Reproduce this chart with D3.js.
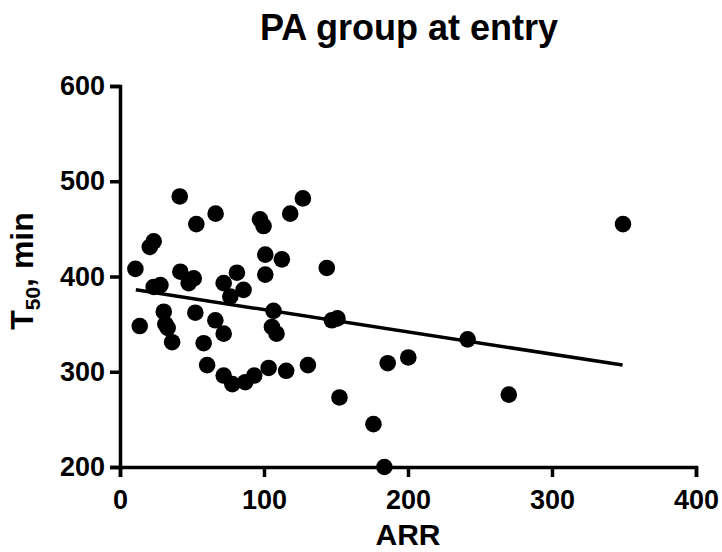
<!DOCTYPE html>
<html>
<head>
<meta charset="utf-8">
<script src="https://cdn.jsdelivr.net/npm/d3@7"></script>
<style>
  body { margin: 0; background: #fff; }
  text { font-family: Arial, "Liberation Sans", sans-serif; font-weight: bold; }
</style>
</head>
<body>
<div id="chart"></div>
<script>
// ARR vs T50 values
var arrValues = [41.5, 66.4, 53, 97.2, 99.7, 118.2, 127, 23.4, 20.7, 10.7,
                 41.9, 51.2, 47.7, 100.9, 112.4, 100.9, 81.2, 72, 85.8, 76.6,
                 28.1, 23.4, 143.6, 30.4, 52.3, 66.2, 106.6, 13.7, 31.5, 33.1,
                 72, 105.5, 108.7, 36.2, 58.1, 60.5, 72, 78, 87, 93.2,
                 103.2, 115.4, 130.5, 147.1, 151, 185.9, 200.2, 152.4, 176, 183.6,
                 349.3, 241.4, 270];
var t50Values = [484, 466, 455, 460, 453, 466, 482, 437, 431, 408,
                 405, 398, 393, 423, 418, 402, 404, 393, 386, 379,
                 391, 389, 409, 363, 362, 354, 364, 348, 350, 346,
                 340, 347, 340, 331, 330, 307, 296, 287, 289, 296,
                 304, 301, 307, 354, 356, 309, 315, 273, 245, 200,
                 455, 334, 276];
var xTicks = [0, 100, 200, 300, 400];
var yTicks = [200, 300, 400, 500, 600];
// regression line end points
var fitX = [11, 349];
var fitY = [386, 307];

var width = 722, height = 552;
var margin = { top: 86, right: 26, bottom: 85, left: 120 };

var svg = d3.select("#chart")
    .append("svg")
    .attr("width", width)
    .attr("height", height);

var x = d3.scaleLinear().domain([0, 400]).range([margin.left, width - margin.right]);
var y = d3.scaleLinear().domain([200, 600]).range([height - margin.bottom, margin.top]);

// x axis
svg.append("g")
    .attr("transform", "translate(0," + y(200) + ")")
    .call(d3.axisBottom(x).tickValues(xTicks).tickSize(10).tickPadding(13));

// y axis
svg.append("g")
    .attr("transform", "translate(" + x(0) + ",0)")
    .call(d3.axisLeft(y).tickValues(yTicks).tickSize(10).tickPadding(5));

svg.selectAll(".domain, .tick line")
    .attr("stroke", "#000")
    .attr("stroke-width", 3.5);

svg.selectAll(".tick text")
    .attr("fill", "#000")
    .style("font-size", "27px")
    .style("font-family", "Arial, 'Liberation Sans', sans-serif")
    .style("font-weight", "bold");

// fit line
var fit = fitX.map(function(d, i) { return [d, fitY[i]]; });
svg.append("path")
    .datum(fit)
    .attr("fill", "none")
    .attr("stroke", "#000")
    .attr("stroke-width", 3.5)
    .attr("d", d3.line().x(function(d) { return x(d[0]); }).y(function(d) { return y(d[1]); }));

// points
svg.selectAll("circle")
    .data(arrValues)
    .enter()
    .append("circle")
    .attr("cx", function(d) { return x(d); })
    .attr("cy", function(d, i) { return y(t50Values[i]); })
    .attr("r", 8.3)
    .attr("fill", "#000");

// title
svg.append("text")
    .attr("x", 409)
    .attr("y", 40)
    .attr("text-anchor", "middle")
    .style("font-size", "36px")
    .text("PA group at entry");

// x label
svg.append("text")
    .attr("x", 408)
    .attr("y", 545)
    .attr("text-anchor", "middle")
    .style("font-size", "30px")
    .text("ARR");

// y label
var yl = svg.append("text")
    .attr("transform", "translate(33," + 271 + ") rotate(-90)")
    .attr("text-anchor", "middle")
    .style("font-size", "32px");
yl.append("tspan").text("T");
yl.append("tspan").attr("dy", 7).style("font-size", "21px").text("50");
yl.append("tspan").attr("dy", -7).text(", min");
</script>
</body>
</html>
